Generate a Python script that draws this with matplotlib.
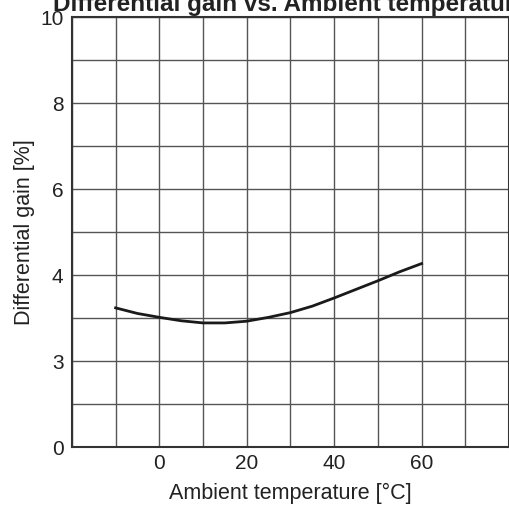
import matplotlib.pyplot as plt
import numpy as np

plt.rcParams['font.family'] = ['Liberation Sans', 'DejaVu Sans']

# curve
temp = [-10, -5, 0, 5, 10, 15, 20, 25, 30, 35, 40, 45, 50, 55, 60]
gain = [3.24, 3.11, 3.02, 2.94, 2.89, 2.89, 2.93, 3.02, 3.13, 3.28, 3.47, 3.67, 3.87, 4.08, 4.27]

xticks = [0, 20, 40, 60]
yticks = [0, 2, 4, 6, 8, 10]
ylabels = ['0', '3', '4', '6', '8', '10']

fig = plt.figure(figsize=(5.1, 5.07), dpi=100)
ax = fig.add_axes([0.141, 0.118, 0.857, 0.848])

ax.plot(temp, gain, color='#1a1a1a', linewidth=2)

ax.set_xlim(-20, 80)
ax.set_ylim(0, 10)
ax.set_xticks(np.arange(-20, 81, 10), minor=True)
ax.set_yticks(np.arange(0, 11, 1), minor=True)
ax.set_xticks(xticks)
ax.set_yticks(yticks)
ax.set_yticklabels(ylabels)
ax.grid(True, which='both', color='#555555', linewidth=1)
ax.tick_params(which='both', length=0, labelsize=15, colors='#222222')
ax.tick_params(axis='x', pad=5)
ax.tick_params(axis='y', pad=6)
for s in ax.spines.values():
    s.set_color('#333333')
    s.set_linewidth(1.5)

ax.set_xlabel('Ambient temperature [°C]', fontsize=15.5, color='#222222', labelpad=7)
ax.set_ylabel('Differential gain [%]', fontsize=15.5, color='#222222', labelpad=4)
ax.set_title('Differential gain vs. Ambient temperature', fontsize=17.5,
             fontweight='bold', color='#222222', pad=4.5)

fig.savefig('out.png', dpi=100)
